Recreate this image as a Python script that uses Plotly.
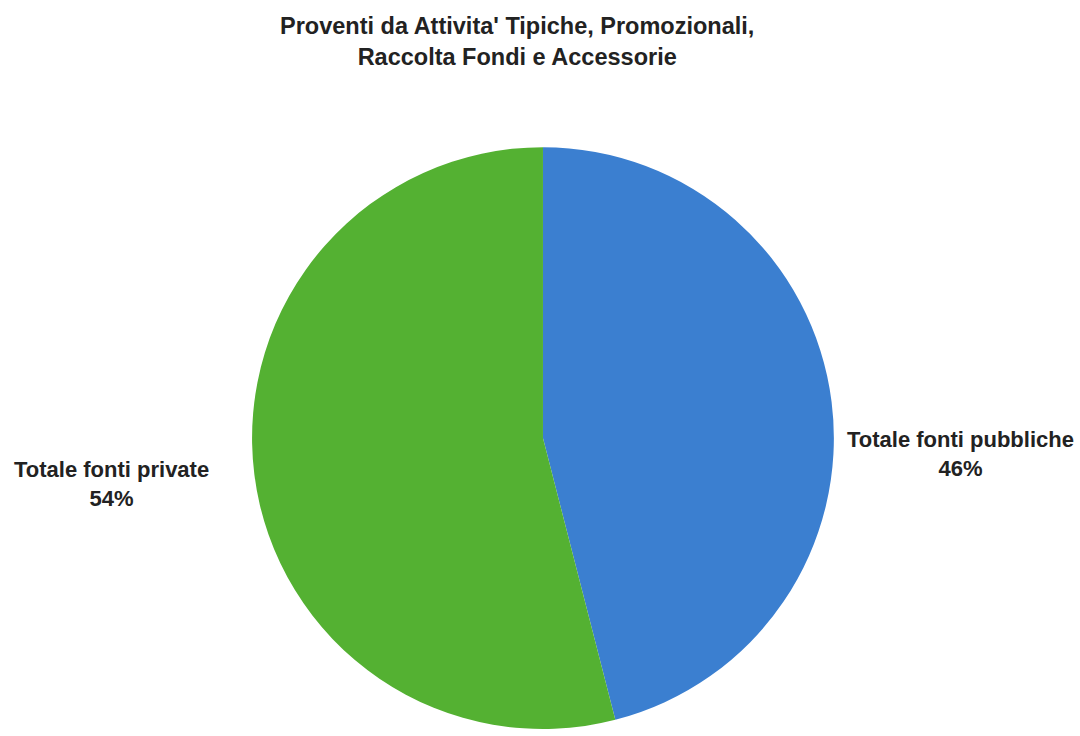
import plotly.graph_objects as go

title_lines = ["Proventi da Attivita' Tipiche, Promozionali,", "Raccolta Fondi e Accessorie"]
labels = ["Totale fonti pubbliche", "Totale fonti private"]
values = [46, 54]
colors = ["#3b7fd0", "#54b132"]

fig = go.Figure()
fig.add_trace(go.Pie(
    labels=labels,
    values=values,
    sort=False,
    direction="clockwise",
    rotation=0,
    marker=dict(colors=colors, line=dict(width=0)),
    textinfo="none",
    hoverinfo="label+percent",
    showlegend=False,
    domain=dict(x=[0.2324, 0.7731], y=[0.0095, 0.80]),
))

total = sum(values)
label_pos = [(0.889, 0.383), (0.103, 0.342)]
for lab, val, (px, py) in zip(labels, values, label_pos):
    fig.add_annotation(
        x=px, y=py, xref="paper", yref="paper",
        xanchor="center", yanchor="middle",
        text=f"<b>{lab}<br>{round(100 * val / total)}%</b>",
        showarrow=False, align="center",
        font=dict(family="Liberation Sans, Arial, sans-serif", size=22, color="#222222"),
    )

fig.add_annotation(
    x=0.479, y=0.943, xref="paper", yref="paper",
    xanchor="center", yanchor="middle",
    text="<b>" + "<br>".join(title_lines) + "</b>",
    showarrow=False, align="center",
    font=dict(family="Liberation Sans, Arial, sans-serif", size=23.5, color="#222222"),
)

fig.update_layout(
    width=1080, height=736,
    margin=dict(l=0, r=0, t=0, b=0),
    paper_bgcolor="white", plot_bgcolor="white",
)

fig.write_html("out.html")
